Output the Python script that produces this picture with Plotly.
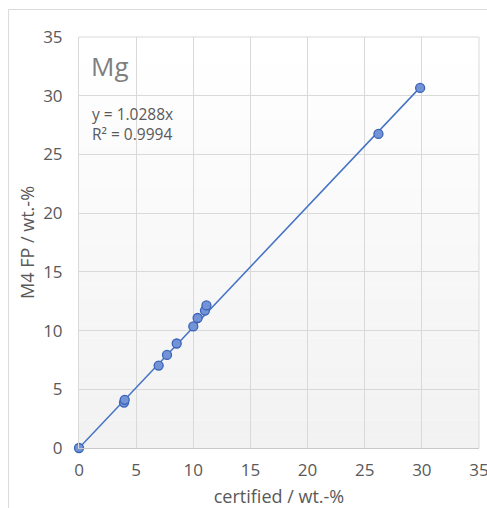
import plotly.graph_objects as go

# data
certified = [0.0, 3.94, 4.0, 6.97, 7.7, 8.55, 10.0, 10.38, 11.02, 11.15, 26.2, 29.85]
m4fp = [0.0, 3.87, 4.1, 7.02, 7.93, 8.9, 10.35, 11.07, 11.7, 12.14, 26.75, 30.66]
slope = 1.0288
trend_x = [0.0, max(certified)]
trend_y = [slope * v for v in trend_x]
tick_vals = [0, 5, 10, 15, 20, 25, 30, 35]

font_fam = "Open Sans, Liberation Sans, sans-serif"
gray = "#595959"
grid = "#d9d9d9"

fig = go.Figure()
fig.add_trace(go.Scatter(x=trend_x, y=trend_y, mode="lines",
                         line=dict(color="#4472C4", width=1.5),
                         hoverinfo="skip", showlegend=False, cliponaxis=False))
fig.add_trace(go.Scatter(x=certified, y=m4fp, mode="markers",
                         marker=dict(size=9, color="#7393d6",
                                     line=dict(color="#3a64b8", width=1.3)),
                         showlegend=False, cliponaxis=False))

fig.update_xaxes(range=[0, 35], tickvals=tick_vals, showgrid=True, gridcolor=grid,
                 gridwidth=1, zeroline=False, showline=True, linecolor="#c8c8c8",
                 mirror=False, ticks="", ticklabeloverflow="allow", ticklabelstandoff=7,
                 automargin=False,
                 tickfont=dict(size=17, color=gray, family=font_fam),
                 title=dict(text="certified / wt.-%", font=dict(size=18, color=gray, family=font_fam),
                            standoff=9))
fig.update_yaxes(range=[0, 35], tickvals=tick_vals, showgrid=True, gridcolor=grid,
                 gridwidth=1, zeroline=False, showline=True, linecolor=grid,
                 ticks="", ticklabelstandoff=12, automargin=False,
                 tickfont=dict(size=17, color=gray, family=font_fam),
                 title=dict(text="M4 FP / wt.-%", font=dict(size=18, color=gray, family=font_fam),
                            standoff=3))

fig.add_annotation(xref="paper", yref="paper", x=0.025, y=0.93, xanchor="left", yanchor="middle",
                   text="Mg", showarrow=False, font=dict(size=26, color="#7f7f7f", family=font_fam))
fig.add_annotation(xref="paper", yref="paper", x=0.028, y=0.788, xanchor="left", yanchor="middle",
                   text="y = 1.0288x<br>R² = 0.9994", align="left", showarrow=False,
                   font=dict(size=15.5, color=gray, family=font_fam))

# subtle vertical gradient in the plot area (bands below gridlines)
n_bands = 30
for i in range(n_bands):
    t = i / (n_bands - 1)
    c = int(round(242 + (255 - 242) * t))
    fig.add_shape(type="rect", xref="paper", yref="paper", x0=0, x1=1,
                  y0=i / n_bands, y1=(i + 1) / n_bands, line=dict(width=0),
                  fillcolor=f"rgb({c},{c},{c})", layer="below")

# top/right borders of plot area
fig.add_shape(type="line", xref="paper", yref="paper", x0=0, x1=1, y0=1, y1=1,
              line=dict(color=grid, width=1), layer="below")
fig.add_shape(type="line", xref="paper", yref="paper", x0=1, x1=1, y0=0, y1=1,
              line=dict(color=grid, width=1), layer="below")

# outer chart frame
fig.add_shape(type="rect", xref="paper", yref="paper", x0=-0.176, y0=-0.3, x1=1.2, y1=1.067,
              line=dict(color="#d9d9d9", width=1), fillcolor="rgba(0,0,0,0)", layer="below")

fig.update_layout(width=487, height=508, margin=dict(l=79, r=8, t=37, b=60),
                  paper_bgcolor="white", plot_bgcolor="white",
                  font=dict(family=font_fam, color=gray))

fig.write_html("out.html")
